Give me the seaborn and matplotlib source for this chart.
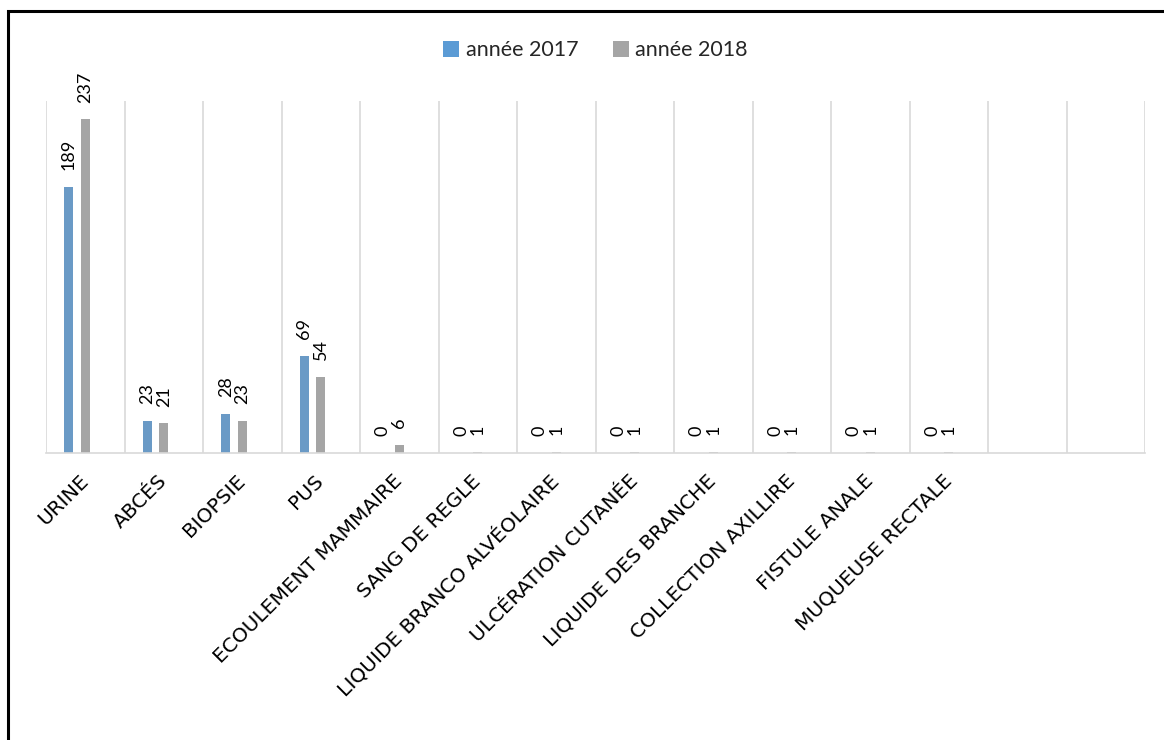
import numpy as np
import pandas as pd
import matplotlib
matplotlib.use("Agg")
import matplotlib.pyplot as plt
from matplotlib.patches import Rectangle, Patch
import seaborn as sns

categories = ["URINE", "ABCÉS", "BIOPSIE", "PUS", "ECOULEMENT MAMMAIRE",
              "SANG DE REGLE", "LIQUIDE BRANCO ALVÉOLAIRE", "ULCÉRATION CUTANÉE",
              "LIQUIDE DES BRANCHE", "COLLECTION AXILLIRE", "FISTULE ANALE",
              "MUQUEUSE RECTALE"]
values_2017 = [189, 23, 28, 69, 0, 0, 0, 0, 0, 0, 0, 0]
values_2018 = [237, 21, 23, 54, 6, 1, 1, 1, 1, 1, 1, 1]
series_names = ["année 2017", "année 2018"]
colors = ["#5B9BD5", "#A5A5A5"]
n_slots = 14  # Excel range has two empty category slots at the end

sns.set_theme(style="white")
plt.rcParams["font.family"] = ["Open Sans", "DejaVu Sans"]

rows = []
for c, a, b in zip(categories, values_2017, values_2018):
    rows.append((c, series_names[0], a))
    rows.append((c, series_names[1], b))
    rows.append((c, "_pad", 0))  # empty third slot (as in the Excel layout)
df = pd.DataFrame(rows, columns=["cat", "serie", "val"])

fig = plt.figure(figsize=(11.64, 7.40), dpi=100)
ax = fig.add_axes([46/1164, 1-453/740, (1145-46)/1164, (453-101)/740])

sns.barplot(data=df, x="cat", y="val", hue="serie", order=categories,
            hue_order=series_names + ["_pad"],
            palette=colors + ["white"], width=0.63, gap=0.48,
            linewidth=0, ax=ax, legend=False)

ax.set_xlim(-0.5, n_slots - 0.5)
ax.set_ylim(0, 250)
ax.set_yticks([])
ax.set_xlabel("")
ax.set_ylabel("")
for s in ["left", "right", "top"]:
    ax.spines[s].set_visible(False)
ax.spines["bottom"].set_color("#D9D9D9")
ax.spines["bottom"].set_linewidth(1.2)

ax.set_xticks(np.arange(-0.5, n_slots, 1), minor=True)
ax.grid(which="minor", axis="x", color="#D9D9D9", linewidth=1.2)
ax.grid(which="major", visible=False)
ax.tick_params(which="both", length=0)
ax.tick_params(axis="x", which="major", pad=18)

ax.set_xticks(range(len(categories)))
ax.set_xticklabels(categories, rotation=45, ha="right", va="center",
                   rotation_mode="anchor", fontsize=14.5, color="#000000",
                   family=["DejaVu Sans"])

for cont, vals in zip(ax.containers[:2], [values_2017, values_2018]):
    ax.bar_label(cont, labels=[str(v) for v in vals], rotation=90,
                 padding=12, fontsize=13, family=["Lato", "DejaVu Sans"],
                 color="#000000")

handles = [Patch(facecolor=c, edgecolor="none") for c in colors]
fig.legend(handles, series_names, loc="center", bbox_to_anchor=(0.5116, 0.932),
           ncol=2, frameon=False, handlelength=0.75, handleheight=0.75,
           handletextpad=0.3, columnspacing=1.6,
           prop={"family": ["Lato", "DejaVu Sans"], "size": 15.5})

fig.patches.append(Rectangle((8/1164, -0.1), 1.2, 1.1 - 11/740,
                             transform=fig.transFigure, fill=False,
                             edgecolor="black", linewidth=2.2, clip_on=False))

fig.savefig("out.png", dpi=100, facecolor="white")
